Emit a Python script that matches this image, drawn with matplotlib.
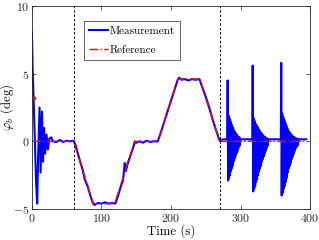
import matplotlib.pyplot as plt
import numpy as np

plt.rcParams['font.family'] = 'serif'
plt.rcParams['font.serif'] = ['cmr10']
plt.rcParams['mathtext.fontset'] = 'cm'
plt.rcParams['axes.formatter.use_mathtext'] = True

# reference trajectory (deg)
ref_t = [0, 60, 88, 119, 148, 181, 210, 241, 270, 395]
ref_phi = [0, 0, -4.6, -4.6, 0, 0, 4.6, 4.6, 0, 0]
init_t = [2.4]
init_phi = [3.2]

# measured response, start-up transient and tracking part
meas_t = [0, 1, 2.4, 4, 6, 7.6, 9, 11, 12.5, 14.5, 16, 17.5, 19, 21, 23, 25, 27.8,
          30, 35, 40, 45, 50, 55, 60, 63, 66, 70, 73, 76, 80, 84, 88, 90, 95, 100,
          105, 110, 115, 120, 124, 128, 131, 133.5, 135, 138, 142, 146, 148, 150,
          155, 160, 165, 170, 175, 181, 185, 190, 195, 200, 205, 210, 212, 215,
          220, 225, 230, 235, 241, 245, 250, 255, 260, 265, 270, 275, 281]
meas_phi = [8.1, 5.5, 3.2, 0.5, -3.0, -4.6, -1.0, 2.5, -2.3, 2.2, -1.5, 1.0, -0.9,
            0.5, -0.6, 0.2, 0.3, 0.0, -0.05, 0.1, -0.05, 0.05, 0.0, 0.05, -0.3,
            -0.9, -1.6, -2.1, -2.8, -3.3, -4.0, -4.6, -4.7, -4.55, -4.6, -4.5,
            -4.6, -4.55, -4.6, -4.0, -3.3, -2.9, -1.6, -2.2, -1.6, -1.0, -0.4,
            0.0, -0.1, 0.0, -0.1, 0.05, -0.05, 0.0, 0.0, 0.6, 1.4, 2.2, 3.0, 3.8,
            4.6, 4.7, 4.55, 4.6, 4.5, 4.6, 4.55, 4.6, 4.0, 3.3, 2.5, 1.6, 0.8,
            0.05, 0.15, 0.15]

# disturbance bursts: start time, cycle period, peak and trough of each cycle
burst_start = [281.5, 317.5, 358.5]
burst_period = [1.3, 1.4, 1.45]
burst_up = [
    [4.5, 1.9, 1.7, 1.5, 1.3, 1.1, 1.0, 0.8, 0.7, 0.6, 0.5, 0.4, 0.3, 0.3],
    [5.6, 1.7, 1.5, 1.3, 1.2, 1.06, 0.9, 0.8, 0.7, 0.6, 0.5, 0.4, 0.35, 0.3, 0.25, 0.2],
    [5.8, 2.05, 1.8, 1.6, 1.4, 1.2, 1.0, 0.8, 0.7, 0.6, 0.5, 0.4, 0.35, 0.3, 0.25, 0.2, 0.2],
]
burst_dn = [
    [-2.9, -2.7, -2.5, -2.2, -2.0, -1.8, -1.5, -1.3, -1.1, -0.9, -0.8, -0.6, -0.4, -0.3],
    [-3.7, -3.5, -3.3, -3.0, -2.8, -2.5, -2.2, -2.0, -1.8, -1.5, -1.3, -1.1, -0.9, -0.7, -0.5, -0.3],
    [-4.0, -3.8, -3.5, -3.3, -3.0, -2.7, -2.3, -2.0, -1.8, -1.6, -1.3, -1.1, -0.9, -0.7, -0.5, -0.4, -0.3],
]
rest_level = 0.15
end_t = 395

t_all = list(meas_t)
y_all = list(meas_phi)
for k in range(3):
    t0, p = burst_start[k], burst_period[k]
    for i, (u, d) in enumerate(zip(burst_up[k], burst_dn[k])):
        t_all += [t0 + i * p, t0 + i * p + p / 2]
        y_all += [u, d]
    t_end = t0 + len(burst_up[k]) * p
    nxt = burst_start[k + 1] if k < 2 else end_t
    t_all += [t_end, nxt - 0.5]
    y_all += [rest_level, rest_level]

fig = plt.figure(figsize=(3.19, 2.40), dpi=100)
ax = fig.add_axes([0.100, 0.129, 0.872, 0.846])

ax.plot(t_all, y_all, color='blue', lw=1.5, label='Measurement')
ax.plot(ref_t, ref_phi, color='red', lw=1.0, ls='-.', label='Reference')
ax.plot(init_t, init_phi, 's', color='red', ms=1.8, mec='red')

ax.axvline(60, color='black', ls=(0, (2.5, 2)), lw=0.7)
ax.axvline(270, color='black', ls=(0, (2.5, 2)), lw=0.7)

ax.set_xlim(0, 400)
ax.set_ylim(-5, 10)
ax.set_xticks([0, 100, 200, 300, 400])
ax.set_yticks([-5, 0, 5, 10])
ax.tick_params(direction='in', top=True, right=True, labelsize=8.5, length=3,
               width=0.5, colors='#262626', pad=2)
for s in ax.spines.values():
    s.set_linewidth(0.6)
    s.set_color('#262626')
ax.set_xlabel('Time (s)', fontsize=9.3, labelpad=0)
ax.set_ylabel(r'$\varphi_b$ (deg)', fontsize=9.3)
ax.yaxis.set_label_coords(-0.058, 0.5)

leg = ax.legend(loc='upper left', bbox_to_anchor=(0.187, 0.926), fontsize=8,
                fancybox=False, edgecolor='#262626', framealpha=1,
                handlelength=1.7, borderpad=0.45, labelspacing=0.85,
                handletextpad=0.15, borderaxespad=0)
leg.get_frame().set_linewidth(0.5)

fig.savefig('out.png', dpi=100)
